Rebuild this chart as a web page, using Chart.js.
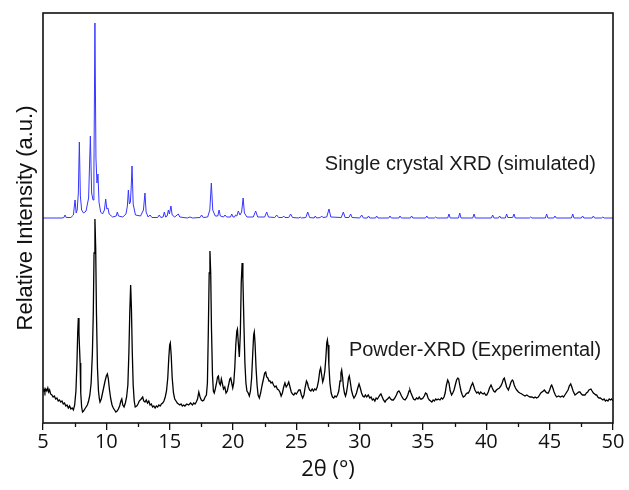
<!DOCTYPE html>
<html>
<head>
<meta charset="utf-8">
<script src="https://cdn.jsdelivr.net/npm/chart.js@4"></script>
<style>
  html, body { margin: 0; padding: 0; background: #fff; }
  #wrap { width: 629px; height: 490px; }
</style>
</head>
<body>
<div id="wrap"><canvas id="xrdChart" width="629" height="490"></canvas></div>
<script>
// 2theta axis
const thetaMin = 5;
const thetaMax = 50;
const thetaStep = 5;

// vertical shift of the simulated pattern above the experimental one
const simOffset = 205;

// simulated single-crystal pattern [2theta, intensity above its baseline]
const simPattern = [
  [5.0,0],[6.5,0],[6.65,0.5],[6.74,3],[6.83,0.5],[7.2,0.5],[7.4,3],[7.53,18],[7.62,5],[7.7,8],
  [7.79,25],[7.87,76],[7.95,22],[8.05,8],[8.2,5],[8.4,7],[8.6,20],[8.74,82],[8.84,25],[8.95,18],
  [9.02,45],[9.1,195],[9.18,60],[9.26,35],[9.34,44],[9.42,16],[9.55,6],[9.7,4],[9.85,8],[9.95,19],
  [10.04,9],[10.13,10],[10.22,4],[10.5,1],[10.78,2],[10.87,6],[10.96,2],[11.3,1],[11.55,4],[11.66,12],
  [11.74,28],[11.82,14],[11.9,16],[11.96,30],[12.03,52],[12.12,14],[12.3,3],[12.7,2],[12.93,8],[13.05,25],
  [13.14,6],[13.3,1],[13.45,3],[13.6,0.5],[14.05,0.5],[14.18,3],[14.3,0.5],[14.48,1],[14.58,6],[14.68,1],
  [14.8,2],[14.9,8],[14.98,4],[15.1,12],[15.2,3],[15.4,1],[15.68,4],[15.8,1],[16.4,0],[16.6,1],
  [16.8,0],[17.4,0.5],[17.52,3],[17.65,0.5],[18.0,1],[18.17,8],[18.29,35],[18.4,8],[18.6,2],[18.8,2],
  [18.9,8],[19.0,2],[19.25,1],[19.37,3],[19.5,1],[19.8,1],[19.9,4],[20.0,1],[20.12,1],[20.2,3],
  [20.3,2],[20.42,7],[20.55,3],[20.68,6],[20.8,20],[20.9,5],[21.1,1],[21.6,1],[21.79,7],[21.95,1],
  [22.5,1],[22.66,6],[22.8,1],[23.3,0.5],[23.45,3],[23.6,0.5],[23.9,0.5],[24.0,2],[24.1,0.5],[24.4,0.5],
  [24.55,4],[24.7,0.5],[25.2,0],[25.3,1],[25.4,0],[25.75,0.5],[25.9,6],[26.05,0.5],[26.4,0],[26.5,2],
  [26.6,0],[26.9,0.5],[27.0,2],[27.1,0.5],[27.4,1],[27.58,9],[27.72,1],[28.55,0.5],[28.71,6],[28.85,0.5],
  [29.15,0.5],[29.29,4],[29.4,0.5],[30.0,0],[30.16,3],[30.3,0],[30.6,0],[30.7,2],[30.8,0],[31.25,0],
  [31.34,2],[31.45,0],[32.3,0],[32.39,2],[32.5,0],[33.1,0],[33.18,2],[33.3,0],[34.0,0],[34.1,2],
  [34.2,0],[35.2,0],[35.3,2],[35.4,0],[35.9,0],[36.0,1],[36.1,0],[36.95,0],[37.05,4],[37.15,0],
  [37.8,0],[37.9,5],[38.0,0],[38.93,0],[39.03,4],[39.13,0],[40.4,0],[40.5,3],[40.6,0],[40.95,0],
  [41.05,2],[41.15,0],[41.5,0],[41.6,4],[41.7,0.5],[42.08,0.5],[42.18,4],[42.28,0],[43.4,0],[43.5,1],
  [43.6,0],[44.66,0],[44.76,4],[44.86,0],[45.32,0],[45.42,2],[45.52,0],[46.72,0],[46.82,4],[46.92,0],
  [47.5,0],[47.6,2],[47.7,0],[48.35,0],[48.45,2],[48.55,0],[49.1,0],[49.2,1],[49.3,0],[50.0,0]
];

// experimental powder pattern [2theta, intensity]
const expPattern = [
  [5.0,31],[5.08,34],[5.15,31],[5.22,34],[5.3,32],[5.38,35],[5.45,31],[5.52,33],[5.6,29],[5.7,28],
  [5.8,26],[5.9,27],[6.0,24],[6.1,25],[6.2,22],[6.3,23],[6.4,21],[6.5,22],[6.6,19],[6.7,20],
  [6.8,17],[6.9,18],[7.0,15],[7.1,17],[7.2,14],[7.3,15],[7.4,13],[7.5,18],[7.6,32],[7.68,60],
  [7.74,90],[7.79,105],[7.84,90],[7.88,76],[7.93,60],[7.98,30],[8.05,16],[8.12,11],[8.2,12],[8.3,14],
  [8.4,16],[8.5,18],[8.6,22],[8.7,28],[8.8,40],[8.9,70],[8.97,110],[9.03,170],[9.1,204],[9.16,175],
  [9.22,110],[9.3,55],[9.38,32],[9.45,24],[9.5,21],[9.6,24],[9.7,30],[9.8,36],[9.9,42],[10.0,47],
  [10.08,49],[10.15,45],[10.25,33],[10.35,24],[10.45,18],[10.55,15],[10.65,13],[10.75,11],[10.85,12],[10.95,14],
  [11.05,17],[11.15,22],[11.22,24],[11.3,18],[11.4,16],[11.5,20],[11.6,26],[11.7,38],[11.78,70],[11.85,110],
  [11.92,138],[11.98,115],[12.05,70],[12.12,38],[12.2,22],[12.28,16],[12.4,17],[12.5,19],[12.6,22],[12.75,24],
  [12.87,26],[12.95,22],[13.05,21],[13.15,23],[13.25,20],[13.35,22],[13.45,18],[13.55,19],[13.65,16],[13.75,17],
  [13.85,15],[13.95,17],[14.05,16],[14.15,18],[14.25,17],[14.35,19],[14.45,20],[14.55,22],[14.65,26],[14.75,32],
  [14.85,45],[14.93,65],[15.0,78],[15.05,80],[15.12,68],[15.2,45],[15.3,30],[15.4,24],[15.5,22],[15.6,20],
  [15.7,19],[15.8,18],[15.9,19],[16.0,17],[16.1,18],[16.2,17],[16.35,19],[16.5,18],[16.65,20],[16.8,18],
  [16.9,20],[17.0,19],[17.1,21],[17.2,24],[17.3,31],[17.4,26],[17.5,23],[17.6,22],[17.7,23],[17.8,26],
  [17.9,28],[17.98,40],[18.05,90],[18.12,150],[18.18,172],[18.24,150],[18.3,95],[18.38,48],[18.45,32],[18.52,30],
  [18.6,34],[18.7,40],[18.78,46],[18.85,47],[18.92,40],[19.0,38],[19.08,44],[19.15,40],[19.25,34],[19.35,36],
  [19.45,30],[19.55,32],[19.65,38],[19.75,44],[19.82,45],[19.9,40],[19.98,35],[20.06,40],[20.14,55],[20.22,78],
  [20.3,92],[20.35,94],[20.42,80],[20.5,66],[20.58,90],[20.65,140],[20.72,160],[20.78,145],[20.86,100],[20.94,60],
  [21.02,40],[21.1,32],[21.2,30],[21.29,27],[21.38,32],[21.47,45],[21.56,70],[21.63,88],[21.68,91],[21.74,80],
  [21.82,55],[21.9,38],[21.98,28],[22.08,25],[22.18,30],[22.3,38],[22.42,45],[22.5,50],[22.58,51],[22.66,46],
  [22.75,45],[22.84,42],[22.92,42],[23.0,40],[23.1,41],[23.2,38],[23.3,36],[23.4,37],[23.5,34],[23.6,33],
  [23.7,31],[23.8,27],[23.9,30],[24.0,36],[24.1,40],[24.2,36],[24.3,38],[24.4,41],[24.5,36],[24.6,31],
  [24.7,29],[24.8,28],[24.9,30],[25.0,29],[25.1,31],[25.2,33],[25.3,33],[25.4,28],[25.5,25],[25.6,28],
  [25.7,36],[25.8,42],[25.88,40],[25.95,36],[26.05,33],[26.15,32],[26.25,34],[26.35,32],[26.45,34],[26.55,33],
  [26.65,36],[26.75,42],[26.85,52],[26.92,55],[27.0,48],[27.08,41],[27.15,44],[27.25,52],[27.33,65],[27.4,80],
  [27.45,83],[27.5,78],[27.57,58],[27.65,40],[27.75,30],[27.85,26],[27.95,25],[28.05,27],[28.15,26],[28.25,28],
  [28.35,32],[28.45,42],[28.52,50],[28.58,53],[28.65,46],[28.72,36],[28.8,30],[28.88,27],[28.95,30],[29.05,38],
  [29.12,45],[29.18,47],[29.25,42],[29.35,33],[29.45,28],[29.55,25],[29.65,27],[29.75,30],[29.85,35],[29.95,39],
  [30.05,35],[30.15,30],[30.25,27],[30.35,26],[30.45,28],[30.55,26],[30.68,28],[30.8,25],[30.9,26],[31.0,23],
  [31.1,24],[31.2,22],[31.3,25],[31.4,24],[31.5,26],[31.6,28],[31.68,29],[31.78,26],[31.88,23],[32.0,21],
  [32.1,23],[32.2,24],[32.34,26],[32.45,24],[32.55,23],[32.66,23],[32.78,25],[32.9,28],[33.0,31],[33.1,32],
  [33.2,30],[33.3,27],[33.45,24],[33.58,23],[33.7,25],[33.8,28],[33.9,32],[33.97,33],[34.05,30],[34.15,27],
  [34.25,24],[34.37,23],[34.5,25],[34.6,24],[34.7,26],[34.8,24],[34.89,24],[35.0,25],[35.1,27],[35.2,30],
  [35.3,29],[35.4,25],[35.5,23],[35.6,22],[35.7,21],[35.8,23],[35.9,22],[36.0,24],[36.1,23],[36.2,24],
  [36.34,23],[36.45,25],[36.55,24],[36.66,26],[36.75,30],[36.85,38],[36.95,43],[37.05,40],[37.15,32],[37.26,28],
  [37.35,30],[37.45,33],[37.55,38],[37.65,43],[37.75,45],[37.82,44],[37.9,38],[38.0,32],[38.1,28],[38.18,26],
  [38.3,27],[38.4,29],[38.5,30],[38.58,30],[38.7,33],[38.8,37],[38.92,40],[39.0,37],[39.1,33],[39.24,30],
  [39.35,31],[39.45,29],[39.55,31],[39.63,30],[39.75,29],[39.85,30],[39.95,28],[40.03,28],[40.15,31],[40.25,35],
  [40.37,38],[40.47,35],[40.58,32],[40.68,31],[40.8,33],[40.9,34],[41.03,35],[41.15,37],[41.25,40],[41.35,44],
  [41.42,45],[41.5,41],[41.6,36],[41.74,33],[41.85,37],[41.95,41],[42.05,43],[42.12,42],[42.2,38],[42.3,35],
  [42.4,33],[42.53,31],[42.65,30],[42.8,29],[42.92,28],[43.05,27],[43.2,28],[43.3,27],[43.45,26],[43.6,26],
  [43.75,25],[43.85,26],[43.97,25],[44.1,26],[44.2,28],[44.3,30],[44.4,31],[44.5,32],[44.58,33],[44.7,31],
  [44.8,30],[44.89,30],[45.0,33],[45.1,37],[45.16,38],[45.25,35],[45.35,31],[45.45,28],[45.55,26],[45.7,27],
  [45.85,26],[46.0,27],[46.1,26],[46.2,28],[46.3,30],[46.45,33],[46.55,37],[46.66,39],[46.75,36],[46.85,32],
  [47.0,28],[47.1,29],[47.2,30],[47.3,31],[47.39,31],[47.5,29],[47.6,28],[47.7,28],[47.79,28],[47.9,30],
  [48.0,31],[48.1,33],[48.26,34],[48.35,32],[48.45,30],[48.55,29],[48.65,28],[48.71,28],[48.8,26],[48.9,25],
  [49.0,25],[49.1,24],[49.2,23],[49.3,24],[49.4,22],[49.5,23],[49.6,22],[49.7,24],[49.8,23],[49.89,24],
  [50.0,22]
];

// curve captions [text, 2theta of left edge, intensity of text middle]
const captions = [
  ["Single crystal XRD (simulated)", 27.25, 259],
  ["Powder-XRD (Experimental)", 29.15, 73]
];

const simData = simPattern.map(p => ({ x: p[0], y: p[1] + simOffset }));
const expData = expPattern.map(p => ({ x: p[0], y: p[1] }));

// frame round the plot, minor ticks and captions
const framePlugin = {
  id: "framePlugin",
  afterDraw(chart) {
    const { ctx, chartArea: a, scales } = chart;
    ctx.save();
    ctx.strokeStyle = "#111";
    ctx.lineWidth = 1.6;
    ctx.strokeRect(a.left, a.top, a.right - a.left, a.bottom - a.top);

    ctx.lineWidth = 1.3;
    ctx.beginPath();
    for (let t = thetaMin + thetaStep / 2; t < thetaMax; t += thetaStep) {
      const px = Math.round(scales.x.getPixelForValue(t)) + 0.5;
      ctx.moveTo(px, a.bottom);
      ctx.lineTo(px, a.bottom + 4);
    }
    ctx.stroke();

    ctx.fillStyle = "#1a1a1a";
    ctx.font = '20px "Liberation Sans", Arial, sans-serif';
    ctx.textBaseline = "middle";
    ctx.textAlign = "left";
    captions.forEach(c => {
      ctx.fillText(c[0], scales.x.getPixelForValue(c[1]), scales.y.getPixelForValue(c[2]));
    });
    ctx.restore();
  }
};

const ctx = document.getElementById("xrdChart").getContext("2d");
const xrdChart = new Chart(ctx, {
  type: "line",
  data: {
    datasets: [
      {
        label: "Single crystal XRD (simulated)",
        data: simData,
        borderColor: "#3535ff",
        borderWidth: 1,
        pointRadius: 0,
        tension: 0,
        fill: false,
      },
      {
        label: "Powder-XRD (Experimental)",
        data: expData,
        borderColor: "#000",
        borderWidth: 1.3,
        pointRadius: 0,
        tension: 0,
        fill: false,
      },
    ],
  },
  options: {
    responsive: false,
    animation: false,
    layout: { padding: { left: 8.6, right: 16, top: 13, bottom: 3.6 } },
    plugins: {
      legend: { display: false },
      tooltip: { enabled: false },
    },
    scales: {
      x: {
        type: "linear",
        min: thetaMin,
        max: thetaMax,
        border: { display: false },
        grid: {
          drawOnChartArea: false,
          drawTicks: true,
          tickLength: 7,
          color: "#111",
          lineWidth: 1.3,
        },
        ticks: {
          stepSize: thetaStep,
          padding: 0,
          color: "#111",
          maxRotation: 0,
          font: { family: '"Open Sans", sans-serif', size: 20 },
        },
        title: {
          display: true,
          text: "2θ (°)",
          color: "#111",
          padding: { top: 3, bottom: 3 },
          font: { family: '"Open Sans", sans-serif', size: 22 },
        },
      },
      y: {
        min: 0,
        max: 410,
        border: { display: false },
        grid: { display: false, drawTicks: false },
        ticks: { display: false },
        title: {
          display: true,
          text: "Relative Intensity (a.u.)",
          color: "#111",
          padding: { top: 4, bottom: 4 },
          font: { family: '"Liberation Sans", Arial, sans-serif', size: 22 },
        },
      },
    },
  },
  plugins: [framePlugin],
});
</script>
</body>
</html>
